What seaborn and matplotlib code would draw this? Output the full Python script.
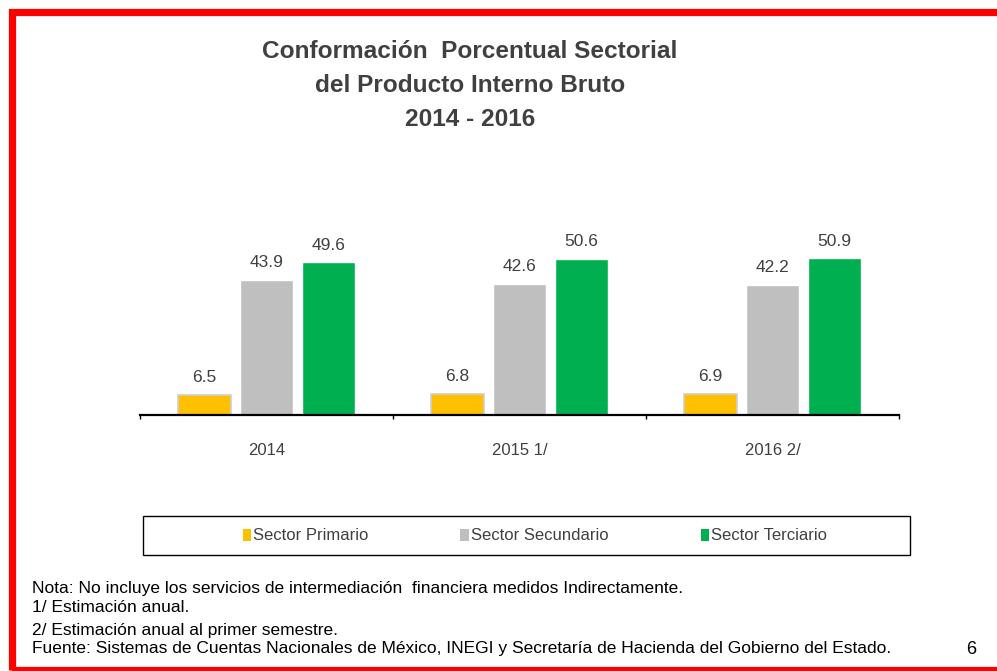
import pandas as pd
import matplotlib.pyplot as plt
import seaborn as sns
from matplotlib.patches import Rectangle, Patch

# Data
years = ['2014', '2015 1/', '2016 2/']
sectors = ['Sector Primario', 'Sector Secundario', 'Sector Terciario']
primario = [6.5, 6.8, 6.9]
secundario = [43.9, 42.6, 42.2]
terciario = [49.6, 50.6, 50.9]
colors = ['#FFC000', '#BFBFBF', '#00B050']

notes = [
    'Nota: No incluye los servicios de intermediación  financiera medidos Indirectamente.',
    '1/ Estimación anual.',
    '2/ Estimación anual al primer semestre.',
    'Fuente: Sistemas de Cuentas Nacionales de México, INEGI y Secretaría de Hacienda del Gobierno del Estado.',
]

df = pd.DataFrame({
    'Año': years * 3,
    'Sector': [sectors[0]] * 3 + [sectors[1]] * 3 + [sectors[2]] * 3,
    'Valor': primario + secundario + terciario,
})

sns.set_theme(style="white")
plt.rcParams['font.family'] = ['Liberation Sans', 'DejaVu Sans']

W, H = 997, 671
fig = plt.figure(figsize=(W / 100, H / 100), dpi=100)
fig.patch.set_facecolor('white')

ax = fig.add_axes([140 / W, (H - 415) / H, 759 / W, 215 / H])
sns.barplot(data=df, x='Año', y='Valor', hue='Sector', palette=colors,
            width=0.735, gap=0.13, legend=False, ax=ax, saturation=1)

# light grey outline on the primary sector bars
for bar in ax.containers[0]:
    bar.set_edgecolor('#D0D0D0')
    bar.set_linewidth(1.2)
for c in ax.containers:
    ax.bar_label(c, fmt='%.1f', padding=7, fontsize=12.5, color='#404040')

ax.set_xlim(-0.5, 2.5)
ax.set_ylim(0, 215 / 3.08)
ax.set_xlabel('')
ax.set_ylabel('')
ax.set_yticks([])
for s in ['top', 'right', 'left']:
    ax.spines[s].set_visible(False)
ax.spines['bottom'].set_color('black')
ax.spines['bottom'].set_linewidth(1.6)
ax.set_xticks([-0.5, 0.5, 1.5, 2.5], minor=True)
ax.tick_params(axis='x', which='minor', length=3, width=1, color='black', direction='out', bottom=True)
ax.tick_params(axis='x', which='major', length=0, pad=20, labelsize=12, labelcolor='#404040')

# title
title_lines = ['Conformación  Porcentual Sectorial', 'del Producto Interno Bruto', '2014 - 2016']
for line, yy in zip(title_lines, [52, 86, 120]):
    fig.text(470 / W, 1 - yy / H, line, ha='center', va='center', fontsize=17.6,
             fontweight='bold', color='#404040')

# legend box
fig.add_artist(Rectangle((143 / W, 1 - 555 / H), 767 / W, 39 / H, transform=fig.transFigure,
                         facecolor='white', edgecolor='black', linewidth=1.0))
handles = [Patch(facecolor=col, edgecolor='none') for col in colors]
fig.legend(handles, sectors, loc='center', bbox_to_anchor=(535 / W, 1 - 536 / H), ncol=3,
           frameon=False, fontsize=12, handlelength=0.5, handleheight=0.75,
           handletextpad=0.15, columnspacing=5.5, labelcolor='#404040')

# footnotes
for txt, yy in zip(notes, [588, 608, 630, 649]):
    fig.text(32 / W, 1 - yy / H, txt, ha='left', va='center', fontsize=12.5, color='black')
fig.text(971 / W, 1 - 650 / H, '6', ha='center', va='center', fontsize=13, color='black')

# red frame
fig.add_artist(Rectangle((11.5 / W, 1.5 / H), 1.2, 1 - 13 / H, transform=fig.transFigure,
                         facecolor='none', edgecolor='#FF0000', linewidth=5.2))

fig.savefig('out.png', dpi=100)
